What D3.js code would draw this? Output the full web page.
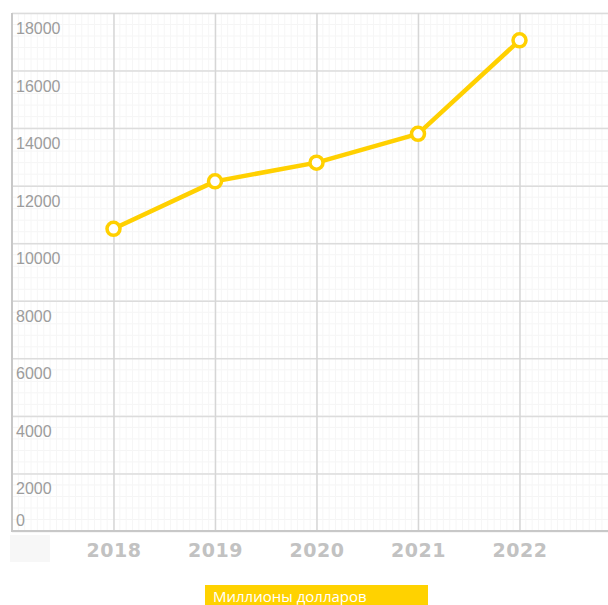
<!DOCTYPE html>
<html><head><meta charset="utf-8">
<script src="https://cdn.jsdelivr.net/npm/d3@7"></script>
<style>body{margin:0;background:#fff}svg{display:block}</style>
</head><body>
<script>
const years = [2018, 2019, 2020, 2021, 2022];
const values = [10500, 12150, 12800, 13800, 17050];
const yTicks = [0, 2000, 4000, 6000, 8000, 10000, 12000, 14000, 16000, 18000];
const legendLabel = "Миллионы долларов";

const W = 608, H = 605;
const svg = d3.select("body").append("svg").attr("width", W).attr("height", H);

const x = d3.scaleLinear().domain([2017, 2023]).range([12, 621]);
const y = d3.scaleLinear().domain([0, 18000]).range([531, 13]);

const g = svg.append("g");

// minor grid
const minorY = d3.range(0, 18001, 400);
g.selectAll(".my").data(minorY).enter().append("line")
  .attr("x1", x(2017)).attr("x2", W).attr("y1", d => y(d)).attr("y2", d => y(d))
  .attr("stroke", "#f5f5f5").attr("stroke-width", 1);
const minorX = d3.range(2017, 2023.01, 0.0625);
g.selectAll(".mx").data(minorX).enter().append("line")
  .attr("x1", d => x(d)).attr("x2", d => x(d)).attr("y1", y(18000)).attr("y2", y(0))
  .attr("stroke", "#f6f6f6").attr("stroke-width", 1);

// major grid via axes
const yGrid = g.append("g").attr("transform", `translate(${x(2017)},0)`)
  .call(d3.axisRight(y).tickValues(yTicks).tickSize(W).tickFormat(""));
yGrid.select(".domain").remove();
yGrid.selectAll("line").attr("stroke", "#dcdcdc").attr("stroke-width", 1.5);

const xGrid = g.append("g").attr("transform", `translate(0,${y(0)})`)
  .call(d3.axisTop(x).tickValues(years).tickSize(y(0) - y(18000)).tickFormat(""));
xGrid.select(".domain").remove();
xGrid.selectAll("line").attr("stroke", "#d6d6d6").attr("stroke-width", 1.5);

// frame lines
g.append("line").attr("x1", x(2017)).attr("x2", x(2017)).attr("y1", y(18000)).attr("y2", y(0) + 1)
  .attr("stroke", "#c8c8c8").attr("stroke-width", 2);
g.append("line").attr("x1", x(2017)).attr("x2", W).attr("y1", y(0)).attr("y2", y(0))
  .attr("stroke", "#c8c8c8").attr("stroke-width", 2);

// y labels
g.selectAll(".yl").data(yTicks).enter().append("text")
  .attr("x", 16).attr("y", d => d === 0 ? y(0) - 5 : y(d) + 21)
  .attr("font-family", "Liberation Sans, Arial, sans-serif").attr("font-size", 16)
  .attr("fill", "#9c9c9c").text(d => d);

// faint box at left of x labels
g.append("rect").attr("x", 10).attr("y", 535).attr("width", 40).attr("height", 27).attr("fill", "#f7f7f7");

// x axis labels
const xAxis = g.append("g").attr("transform", `translate(0,${y(0)})`)
  .call(d3.axisBottom(x).tickValues(years).tickSize(0).tickFormat(d3.format("d")));
xAxis.select(".domain").remove();
xAxis.selectAll("text").attr("dy", 0).attr("y", 26)
  .attr("font-family", "DejaVu Sans, Verdana, sans-serif").attr("font-weight", "bold")
  .attr("font-size", 19).attr("fill", "#c2c2c2").attr("letter-spacing", 0.5);

// line
const pts = years.map((yr, i) => [yr, values[i]]);
g.append("path").datum(pts)
  .attr("d", d3.line().x(d => x(d[0])).y(d => y(d[1])))
  .attr("fill", "none").attr("stroke", "#FFD000").attr("stroke-width", 4.5)
  .attr("stroke-linejoin", "round");
g.selectAll(".pt").data(pts).enter().append("circle")
  .attr("cx", d => x(d[0])).attr("cy", d => y(d[1])).attr("r", 6.5)
  .attr("fill", "#fff").attr("stroke", "#FFD000").attr("stroke-width", 3.5);

// legend
const lg = svg.append("g");
lg.append("rect").attr("x", 205).attr("y", 585).attr("width", 223).attr("height", 25).attr("fill", "#FFD200");
lg.append("text").attr("x", 213).attr("y", 602)
  .attr("font-family", "Open Sans, sans-serif").attr("font-size", 15)
  .attr("fill", "#fff").text(legendLabel);
</script>
</body></html>
